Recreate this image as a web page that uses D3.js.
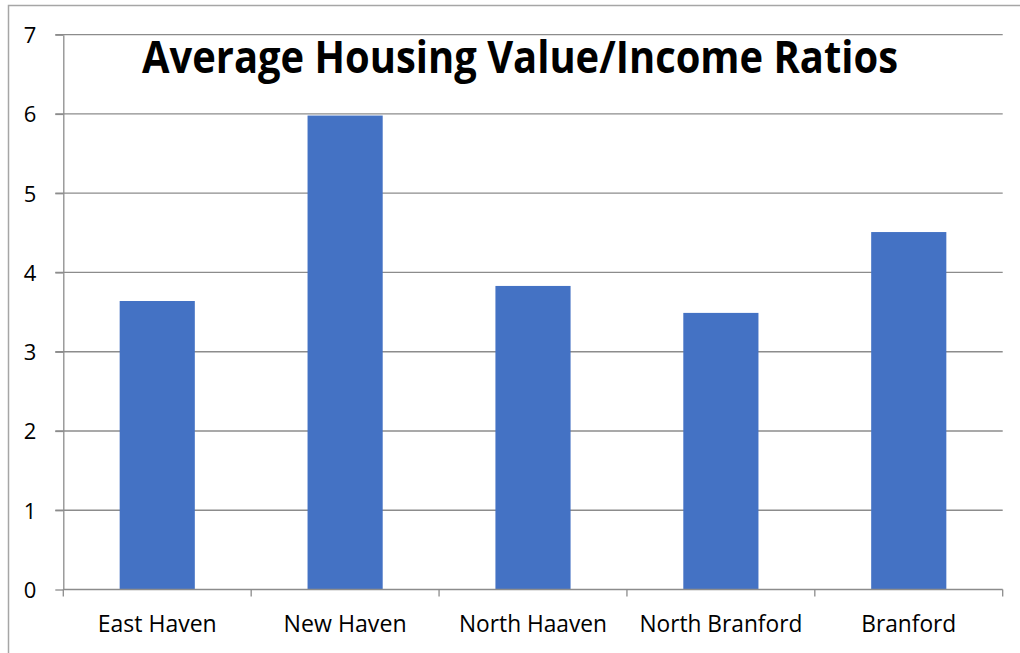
<!DOCTYPE html>
<html><head><meta charset="utf-8">
<script src="https://cdn.jsdelivr.net/npm/d3@7"></script>
<style>body{margin:0;background:#fff}svg{display:block}</style>
</head><body>
<script>
const categories = ["East Haven","New Haven","North Haaven","North Branford","Branford"];
const values = [3.64, 5.98, 3.83, 3.49, 4.51];
const yTicks = [0,1,2,3,4,5,6,7];
const title = "Average Housing Value/Income Ratios";

const W = 1020, H = 653;
const svg = d3.select("body").append("svg").attr("width", W).attr("height", H);
const font = "'Open Sans', 'Noto Sans', sans-serif";

// outer chart border
svg.append("rect").attr("x", 8.5).attr("y", 5.5).attr("width", 1100).attr("height", 1000)
  .attr("fill", "none").attr("stroke", "#a6a6a6").attr("stroke-width", 1.5);

const pLeft = 63.3, pRight = 1002.7, pTop = 34.7, pBottom = 589.5;
const x = d3.scaleBand().domain(categories).range([pLeft, pRight]).paddingInner(0).paddingOuter(0);
const y = d3.scaleLinear().domain([0, 7]).range([pBottom, pTop]);

// gridlines
svg.append("g").selectAll("line").data(yTicks.filter(t => t > 0)).join("line")
  .attr("x1", pLeft - 8).attr("x2", pRight)
  .attr("y1", d => y(d)).attr("y2", d => y(d))
  .attr("stroke", "#8c8c8c").attr("stroke-width", 1.3);

// y axis
const yAxis = svg.append("g").attr("transform", `translate(${pLeft},0)`)
  .call(d3.axisLeft(y).tickValues(yTicks).tickFormat(d3.format("d")).tickSize(8).tickPadding(19).tickSizeOuter(0));
yAxis.select(".domain").attr("stroke", "#8c8c8c").attr("stroke-width", 1.3);
yAxis.selectAll(".tick line").attr("stroke", "#8c8c8c").attr("stroke-width", 1.3);
yAxis.selectAll(".tick text").attr("font-family", font).attr("font-size", 22).attr("fill", "#000").attr("dy", "0.36em");

// bars
svg.append("g").selectAll("rect").data(values).join("rect")
  .attr("x", (d, i) => x(categories[i]) + x.bandwidth() * 0.3)
  .attr("width", x.bandwidth() * 0.4)
  .attr("y", d => y(d))
  .attr("height", d => y(0) - y(d))
  .attr("fill", "#4472c4");

// x axis
const xg = svg.append("g");
xg.append("line").attr("x1", pLeft).attr("x2", pRight).attr("y1", pBottom).attr("y2", pBottom)
  .attr("stroke", "#8c8c8c").attr("stroke-width", 1.3);
const bounds = categories.map(c => x(c)).concat([pRight]);
xg.selectAll("line.t").data(bounds).join("line").attr("class", "t")
  .attr("x1", d => d).attr("x2", d => d).attr("y1", pBottom).attr("y2", pBottom + 7)
  .attr("stroke", "#8c8c8c").attr("stroke-width", 1.3);
const targetW = {"East Haven":119, "New Haven":123, "North Haaven":148, "North Branford":163, "Branford":95};
xg.selectAll("text").data(categories).join("text")
  .attr("x", d => x(d) + x.bandwidth() / 2)
  .attr("y", 632)
  .attr("text-anchor", "middle")
  .attr("font-family", font).attr("font-size", 23).attr("fill", "#000")
  .text(d => d)
  .attr("textLength", d => targetW[d]).attr("lengthAdjust", "spacingAndGlyphs");

// title
svg.append("text").attr("x", 142).attr("y", 73)
  .attr("font-family", font).attr("font-weight", "bold").attr("font-size", 45)
  .attr("fill", "#000").text(title)
  .attr("textLength", 756).attr("lengthAdjust", "spacingAndGlyphs");
</script>
</body></html>
